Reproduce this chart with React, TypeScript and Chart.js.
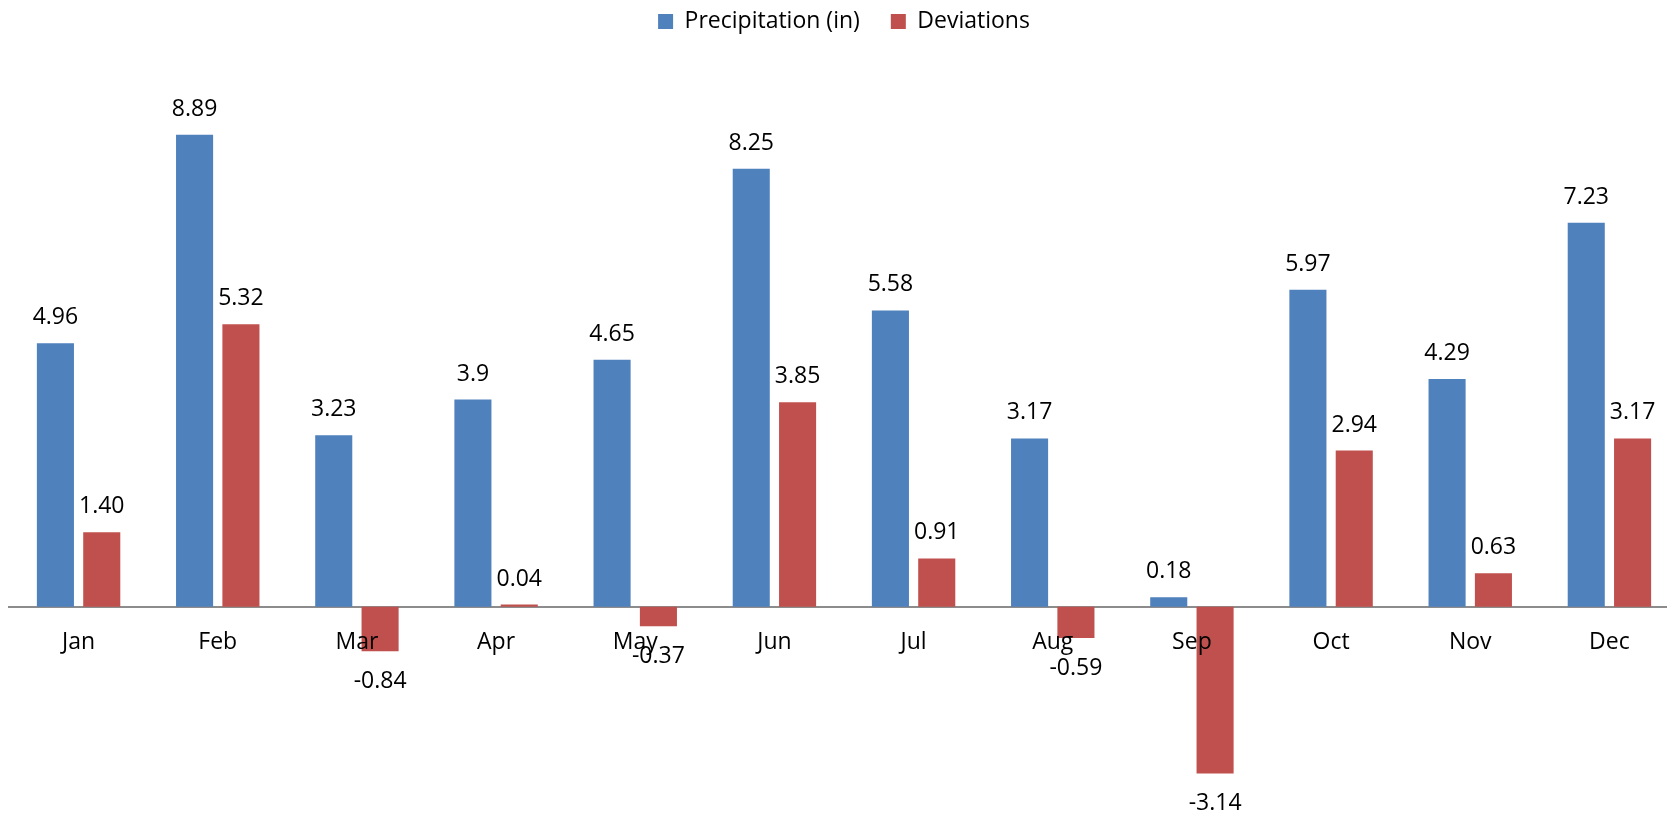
import { useEffect, useRef } from "react";
import { Chart, registerables } from "chart.js";

Chart.register(...registerables);

const months = ["Jan", "Feb", "Mar", "Apr", "May", "Jun", "Jul", "Aug", "Sep", "Oct", "Nov", "Dec"];
const precipitation = [4.96, 8.89, 3.23, 3.9, 4.65, 8.25, 5.58, 3.17, 0.18, 5.97, 4.29, 7.23];
const deviations = [1.4, 5.32, -0.84, 0.04, -0.37, 3.85, 0.91, -0.59, -3.14, 2.94, 0.63, 3.17];
const precipitationLabels = ["4.96", "8.89", "3.23", "3.9", "4.65", "8.25", "5.58", "3.17", "0.18", "5.97", "4.29", "7.23"];
const deviationLabels = ["1.40", "5.32", "-0.84", "0.04", "-0.37", "3.85", "0.91", "-0.59", "-3.14", "2.94", "0.63", "3.17"];

const FONT = "'Open Sans', 'Liberation Sans', sans-serif";

const valueLabels = {
  id: "valueLabels",
  afterDatasetsDraw(chart: any) {
    const ctx = chart.ctx;
    ctx.save();
    ctx.font = `23px ${FONT}`;
    ctx.fillStyle = "#000";
    ctx.textAlign = "center";
    ctx.textBaseline = "alphabetic";
    chart.data.datasets.forEach((ds: any, di: number) => {
      const meta = chart.getDatasetMeta(di);
      const texts = di === 0 ? precipitationLabels : deviationLabels;
      meta.data.forEach((el: any, i: number) => {
        const v = ds.data[i];
        const y = v >= 0 ? el.y - 19 : el.y + 37;
        ctx.fillText(texts[i], el.x, y);
      });
    });
    ctx.restore();
  },
};

export default function App() {
  const ref = useRef<HTMLCanvasElement>(null);
  useEffect(() => {
    if (!ref.current) return;
    const chart = new Chart(ref.current, {
      type: "bar",
      data: {
        labels: months,
        datasets: [
          { label: "Precipitation (in)", data: precipitation, backgroundColor: "#4F81BD", borderWidth: 0 },
          { label: "Deviations", data: deviations, backgroundColor: "#C0504D", borderWidth: 0 },
        ],
      },
      options: {
        responsive: false,
        animation: false,
        devicePixelRatio: 1,
        layout: { padding: { left: 9, right: 0, top: -21, bottom: 0 } },
        datasets: { bar: { barPercentage: 0.8, categoryPercentage: 0.666 } },
        plugins: {
          legend: {
            position: "top",
            labels: {
              boxWidth: 15,
              boxHeight: 15,
              padding: 31,
              color: "#000",
              font: { family: FONT, size: 23 },
            },
          },
          tooltip: { enabled: false },
        },
        scales: {
          x: {
            position: { y: 0 },
            offset: true,
            grid: { display: false, drawTicks: false },
            border: { display: true, color: "#8c8c8c", width: 2 },
            ticks: {
              z: 1,
              color: "#000",
              font: { family: FONT, size: 23 },
              padding: 22,
              maxRotation: 0,
              autoSkip: false,
            },
          },
          y: {
            display: false,
            min: -3.904,
            max: 10.616,
          },
        },
      },
      plugins: [valueLabels],
    } as any);
    return () => chart.destroy();
  }, []);
  return (
    <div style={{ position: "fixed", left: 0, top: 0, width: 1667, height: 814, overflow: "hidden", background: "#fff" }}>
      <canvas ref={ref} width={1679} height={814} style={{ display: "block" }} />
    </div>
  );
}
